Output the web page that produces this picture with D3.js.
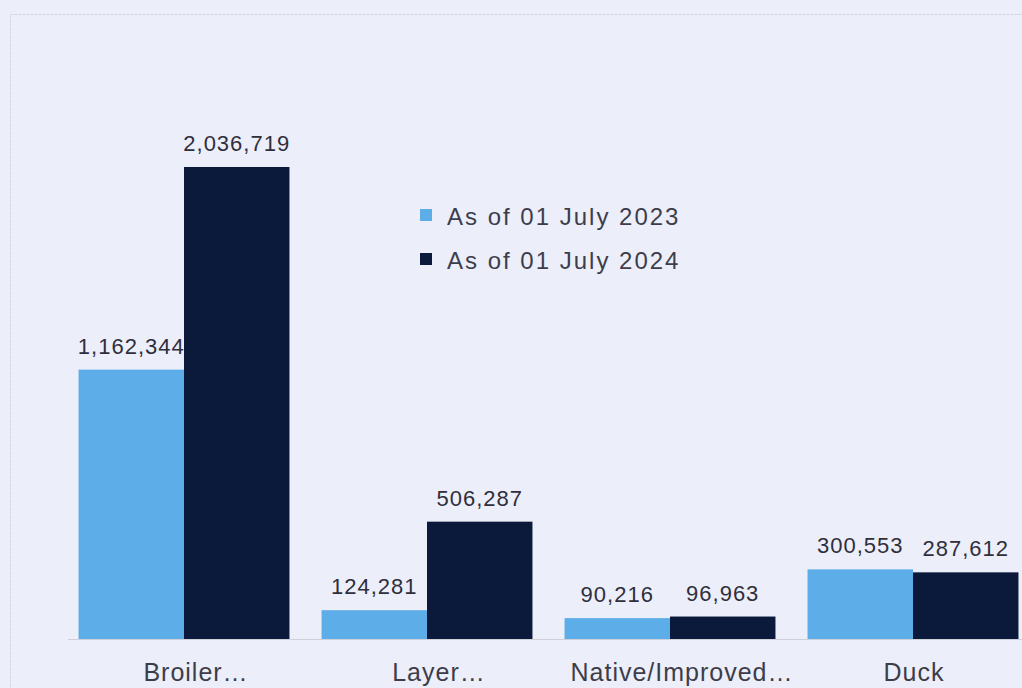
<!DOCTYPE html>
<meta charset="utf-8">
<head>
<style>
body { margin: 0; background: #eceef9; }
text { font-family: "Liberation Sans", Arial, sans-serif; }
</style>
</head>
<body>
<script src="https://d3js.org/d3.v7.min.js"></script>
<script>

// chart data
var categories = ["Broiler\u2026", "Layer\u2026", "Native/Improved\u2026", "Duck"];
var seriesNames = ["As of 01 July 2023", "As of 01 July 2024"];
var values2023 = [1162344, 124281, 90216, 300553];
var values2024 = [2036719, 506287, 96963, 287612];

var colors = ["#5dade9", "#0b1a3a"];

var width = 1022, height = 688;
var baseY = 639;

var svg = d3.select("body").append("svg")
    .attr("width", width)
    .attr("height", height);

// background + faint plot frame
svg.append("rect")
    .attr("width", width).attr("height", height)
    .attr("fill", "#eceef9");
svg.append("rect")
    .attr("x", 10.5).attr("y", 14.5)
    .attr("width", 1100).attr("height", 800)
    .attr("fill", "none")
    .attr("stroke", "#d3d4de")
    .attr("stroke-dasharray", "3,1");

// scales
var x0 = d3.scaleBand()
    .domain(categories)
    .range([62.5, 1034.5])
    .paddingInner(0.132)
    .paddingOuter(0.066);

var x1 = d3.scaleBand()
    .domain([0, 1])
    .range([0, x0.bandwidth()]);

var y = d3.scaleLinear()
    .domain([0, 2036719])
    .range([baseY, 167]);

var rows = categories.map(function(c, i) {
  return {cat: c, vals: [values2023[i], values2024[i]]};
});

// baseline
svg.append("line")
    .attr("x1", 68).attr("x2", width)
    .attr("y1", baseY + 0.5).attr("y2", baseY + 0.5)
    .attr("stroke", "#cfd0da");

var groups = svg.selectAll(".grp")
    .data(rows)
  .enter().append("g")
    .attr("transform", function(d) { return "translate(" + x0(d.cat) + ",0)"; });

groups.selectAll("rect")
    .data(function(d) { return d.vals; })
  .enter().append("rect")
    .attr("x", function(d, i) { return x1(i); })
    .attr("y", function(d) { return y(d); })
    .attr("width", x1.bandwidth())
    .attr("height", function(d) { return baseY - y(d); })
    .attr("fill", function(d, i) { return colors[i]; });

// value labels
groups.selectAll(".val")
    .data(function(d) { return d.vals; })
  .enter().append("text")
    .attr("x", function(d, i) { return x1(i) + x1.bandwidth() / 2; })
    .attr("y", function(d) { return y(d) - 16; })
    .attr("text-anchor", "middle")
    .style("font-size", "22px")
    .style("letter-spacing", "1px")
    .attr("fill", "#2f2f3c")
    .text(function(d) { return d3.format(",")(d); });

// category labels (truncated ones sit a little right of centre)
svg.append("g").selectAll("text")
    .data(categories)
  .enter().append("text")
    .attr("x", function(d) { return x0(d) + x0.bandwidth() / 2; })
    .attr("dx", function(d) { return d.slice(-1) === "\u2026" ? 12 : 1; })
    .attr("y", 681)
    .attr("text-anchor", "middle")
    .style("font-size", "25px")
    .style("letter-spacing", "1px")
    .attr("fill", "#3d3d4a")
    .text(function(d) { return d; });

// legend
var legend = svg.append("g").selectAll("g")
    .data(seriesNames)
  .enter().append("g")
    .attr("transform", function(d, i) { return "translate(420," + (209 + i * 44) + ")"; });

legend.append("rect")
    .attr("width", 12).attr("height", 12)
    .attr("fill", function(d, i) { return colors[i]; });

legend.append("text")
    .attr("x", 27).attr("y", 16)
    .style("font-size", "24px")
    .style("letter-spacing", "2px")
    .attr("fill", "#3d3d4c")
    .text(function(d) { return d; });

</script>
</body>
